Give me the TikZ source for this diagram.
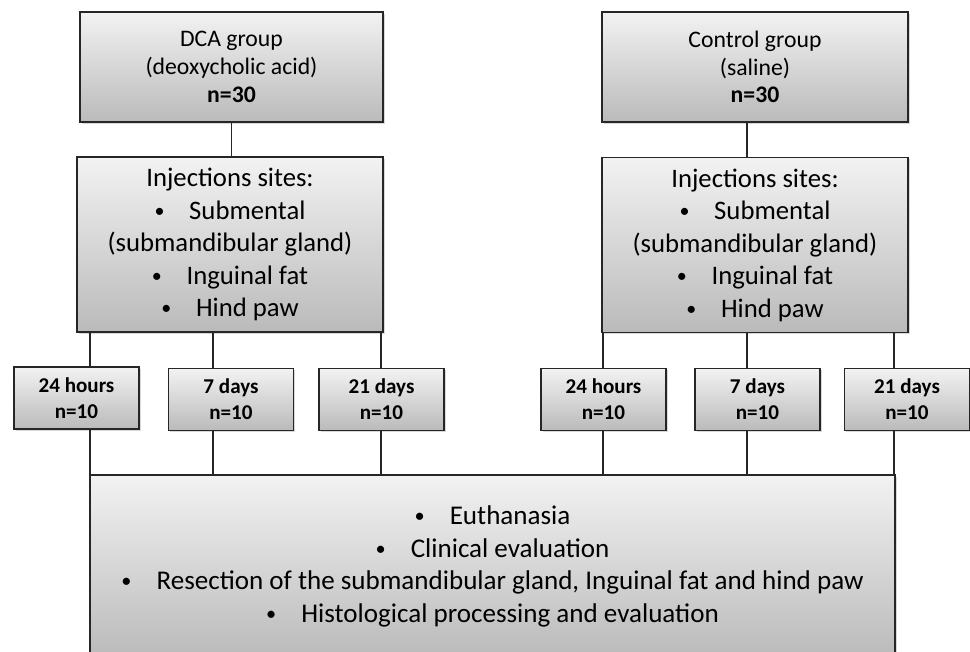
\documentclass[tikz,border=0pt]{standalone}
\usepackage{fontspec}
\setmainfont{Carlito}
\usetikzlibrary{positioning,shadows}

\newcommand{\itm}{\makebox[1.3em][l]{\raisebox{0.07em}{\scalebox{0.75}{\textbullet}}}}

\begin{document}
\begin{tikzpicture}[x=0.02cm, y=-0.02cm]
        \tikzstyle{box}=[draw=black!85, line width=0.7pt, top color=black!5, bottom color=black!27,
                         drop shadow={shadow xshift=1pt, shadow yshift=-1pt, opacity=0.3},
                         align=center, inner sep=0pt]
        \tikzstyle{grp}=[box, font=\fontsize{13.5}{15.8}\selectfont, minimum height=2.2cm]
        \tikzstyle{site}=[box, font=\fontsize{15.2}{18.5}\selectfont, minimum width=6.12cm, minimum height=3.5cm]
        \tikzstyle{time}=[box, font=\fontsize{12}{14.7}\selectfont\bfseries, minimum width=2.5cm, minimum height=1.24cm]
        \tikzstyle{link}=[draw=black!85, line width=0.6pt]

        \useasboundingbox (0,0) rectangle (970,652);
        \clip (0,0) rectangle (970,652);

        % groups
        \node[grp, minimum width=6.06cm] (dca)  at (231.5,67) {DCA group\\(deoxycholic acid)\\\textbf{n=30}};
        \node[grp, minimum width=6.12cm] (ctrl) at (755,67)   {Control group\\(saline)\\\textbf{n=30}};

        % injection sites
        \node[site] (injL) at (230,244.5) {Injections sites:\\\itm Submental\\(submandibular gland)\\\itm Inguinal fat\\\itm Hind paw};
        \node[site] (injR) at (755,245)   {Injections sites:\\\itm Submental\\(submandibular gland)\\\itm Inguinal fat\\\itm Hind paw};

        % time points
        \node[time] (l24) at (76.5,398)  {24 hours\\n=10};
        \node[time] (l7)  at (231,399.5) {7 days\\n=10};
        \node[time] (l21) at (381.5,399.5) {21 days\\n=10};
        \node[time] (r24) at (603.5,399.5) {24 hours\\n=10};
        \node[time] (r7)  at (757.5,399.5) {7 days\\n=10};
        \node[time] (r21) at (907,399.5) {21 days\\n=10};

        % outcome
        \node[box, font=\fontsize{15.4}{18.5}\selectfont, minimum width=16.1cm, minimum height=3.66cm] (res) at (492.5,566.5)
            {\itm Euthanasia\\\itm Clinical evaluation\\\itm Resection of the submandibular gland, Inguinal fat and hind paw\\\itm Histological processing and evaluation};

        \coordinate (kl1) at (90,0);
        \coordinate (kl2) at (213,0);
        \coordinate (kl3) at (381,0);
        \coordinate (kr1) at (603,0);
        \coordinate (kr2) at (747,0);
        \coordinate (kr3) at (894,0);

        \draw[link] (dca.south) -- (dca.south |- injL.north);
        \draw[link] (ctrl.south -| kr2) -- (injR.north -| kr2);

        \draw[link] (injL.south -| kl1) -- (l24.north -| kl1);
        \draw[link] (injL.south -| kl2) -- (l7.north -| kl2);
        \draw[link] (injL.south -| kl3) -- (l21.north -| kl3);
        \draw[link] (injR.south -| kr1) -- (r24.north -| kr1);
        \draw[link] (injR.south -| kr2) -- (r7.north -| kr2);
        \draw[link] (injR.south -| kr3) -- (r21.north -| kr3);

        \draw[link] (l24.south -| kl1) -- (res.north -| kl1);
        \draw[link] (l7.south -| kl2)  -- (res.north -| kl2);
        \draw[link] (l21.south -| kl3) -- (res.north -| kl3);
        \draw[link] (r24.south -| kr1) -- (res.north -| kr1);
        \draw[link] (r7.south -| kr2)  -- (res.north -| kr2);
        \draw[link] (r21.south -| kr3) -- (res.north -| kr3);
\end{tikzpicture}
\end{document}
